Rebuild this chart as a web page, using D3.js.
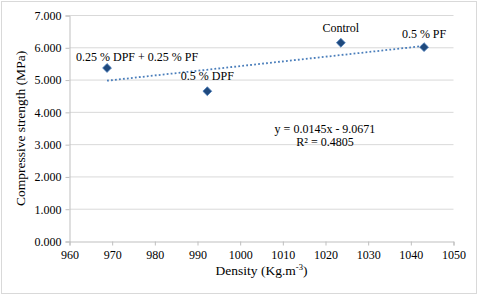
<!DOCTYPE html>
<html><head><meta charset="utf-8">
<script src="https://cdn.jsdelivr.net/npm/d3@7"></script>
</head><body style="margin:0">
<svg id="c" width="480" height="296" style="display:block;font-family:'Times New Roman',Times,serif"></svg>
<script>
const labels = ["0.25 % DPF + 0.25 % PF", "0.5 % DPF", "Control", "0.5 % PF"];
const density = [968.8, 992.3, 1023.6, 1043.1];
const strength = [5.375, 4.655, 6.155, 6.02];
const xTicks = [960, 970, 980, 990, 1000, 1010, 1020, 1030, 1040, 1050];
const yTicks = [0, 1, 2, 3, 4, 5, 6, 7];
const slope = 0.0145, intercept = -9.0671, r2 = 0.4805;

const svg = d3.select("#c");
svg.append("rect").attr("x",1.5).attr("y",1.5).attr("width",475).attr("height",292)
  .attr("fill","#fff").attr("stroke","#d9d9d9");

const x = d3.scaleLinear().domain([960,1050]).range([69.5,453.5]);
const y = d3.scaleLinear().domain([0,7]).range([241.5,15.5]);

svg.append("g").selectAll("line").data(yTicks.filter(d=>d>0)).join("line")
  .attr("x1",x(960)).attr("x2",x(1050)).attr("y1",d=>y(d)).attr("y2",d=>y(d))
  .attr("stroke","#d9d9d9").attr("stroke-width",1);

const yAxis = svg.append("g").attr("transform",`translate(${x(960)},0)`)
  .call(d3.axisLeft(y).tickValues(yTicks).tickFormat(d3.format(".3f")).tickSize(4).tickPadding(4));
const xAxis = svg.append("g").attr("transform",`translate(0,${y(0)})`)
  .call(d3.axisBottom(x).tickValues(xTicks).tickFormat(d3.format("d")).tickSize(4).tickPadding(5));
[xAxis,yAxis].forEach(g=>{
  g.attr("font-family",null).attr("font-size",null);
  g.node().removeAttribute("font-family");
  g.select(".domain").attr("stroke","#bfbfbf");
  g.selectAll(".tick line").attr("stroke","#bfbfbf");
  g.selectAll("text").attr("font-size",12).attr("fill","#000");
});

const x0 = d3.min(density), x1 = d3.max(density);
svg.append("line").attr("x1",x(x0)).attr("y1",y(slope*x0+intercept))
  .attr("x2",x(x1)).attr("y2",y(slope*x1+intercept))
  .attr("stroke","#4a7ebb").attr("stroke-width",1.8).attr("stroke-dasharray","1.8,2.2");

const pts = density.map((d,i)=>({d, s:strength[i], l:labels[i]}));
svg.append("g").selectAll("path").data(pts).join("path")
  .attr("transform",p=>`translate(${x(p.d)},${y(p.s)})`)
  .attr("d",d3.symbol(d3.symbolDiamond2, 50))
  .attr("fill","#1f497d").attr("stroke","#4a7ebb").attr("stroke-width",0.8);

const off = [[30,-7],[0,-11],[0,-11],[0,-9]];
pts.forEach((p,i)=>{
  svg.append("text").attr("x",x(p.d)+off[i][0]).attr("y",y(p.s)+off[i][1])
    .attr("text-anchor","middle").attr("font-size",12)
    .text(p.l);
});

svg.append("text").attr("x",325).attr("y",133).attr("text-anchor","middle")
  .attr("font-size",12)
  .text(`y = ${slope}x - ${Math.abs(intercept)}`);
svg.append("text").attr("x",325).attr("y",146).attr("text-anchor","middle")
  .attr("font-size",12)
  .text(`R² = ${r2}`);

svg.append("text").attr("transform",`translate(25,${(y(0)+y(7))/2}) rotate(-90)`)
  .attr("text-anchor","middle").attr("font-size",13.5)
  .text("Compressive strength (MPa)");
const xt = svg.append("text").attr("x",(x(960)+x(1050))/2).attr("y",275)
  .attr("text-anchor","middle").attr("font-size",13.5);
xt.append("tspan").text("Density (Kg.m");
xt.append("tspan").attr("font-size",8.5).attr("dy",-5).text("-3");
xt.append("tspan").attr("dy",5).text(")");
</script>
</body></html>
